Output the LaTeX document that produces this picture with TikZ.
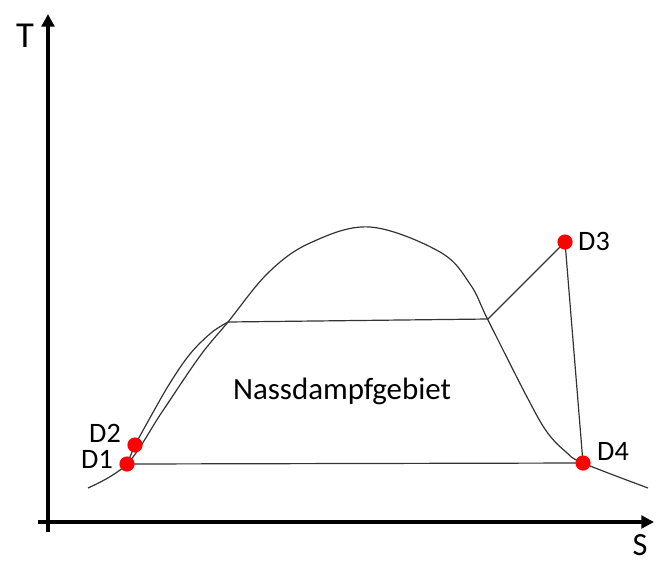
\documentclass[tikz,border=0pt]{standalone}
\usepackage{fontspec}
\setmainfont{Carlito}
\usetikzlibrary{arrows.meta}

\tikzset{
  kurve/.style={draw=black!80,line width=0.85pt},
  achse/.style={line width=2.4pt,-{Triangle[length=9pt,width=9pt]}},
  punkt/.style={circle,fill=red,inner sep=0pt,minimum size=0.38cm},
  lbl/.style={font=\fontsize{20}{23}\selectfont,inner sep=0pt}
}

\begin{document}
\begin{tikzpicture}[x=0.025cm,y=-0.025cm]
\useasboundingbox (0,0) rectangle (662,566);
% axes
\coordinate (ou) at (48,532);
\coordinate (yt) at (48,14);
\coordinate (ol) at (38,522);
\coordinate (xt) at (654,522);
\draw[achse] (ou) -- (yt);
\draw[achse] (ol) -- (xt);
\node[font=\fontsize{26}{30}\selectfont,inner sep=0pt] (T) at (25,36) {T};
\node[font=\fontsize{23}{27}\selectfont,inner sep=0pt] (S) at (640,545) {S};
% cycle points
\coordinate (p1) at (127,464);
\coordinate (p2) at (135,445);
\coordinate (p3) at (565,242);
\coordinate (p4) at (583,463);
\coordinate (ka) at (228,322);
\coordinate (kb) at (488,319);
% saturation curve
\draw[kurve] plot[smooth,tension=0.6] coordinates {(88,488) (127,464) (162,412) (200,356) (228,322) (268,273) (310,243) (370,227) (440,252) (470,284) (488,320) (527,397) (547,432) (566,452) (583,463) (648,488)};
% heating from D2
\draw[kurve] plot[smooth,tension=0.6] coordinates {(135,445) (151,416) (170,383) (190,354) (211,333) (228,322)};
\draw[kurve] (p1) -- (p2);
\draw[kurve] (ka) -- (kb) -- (p3) -- (p4) -- (p1);
\node[font=\fontsize{22}{26}\selectfont] (nd) at (342,391) {Nassdampfgebiet};
% points
\node[punkt] (d1) at (p1) {};
\node[punkt] (d2) at (p2) {};
\node[punkt] (d3) at (p3) {};
\node[punkt] (d4) at (p4) {};
\node[lbl] (l1) at (97,459) {D1};
\node[lbl] (l2) at (105,433) {D2};
\node[lbl] (l3) at (594,241) {D3};
\node[lbl] (l4) at (613,451) {D4};
\end{tikzpicture}
\end{document}
